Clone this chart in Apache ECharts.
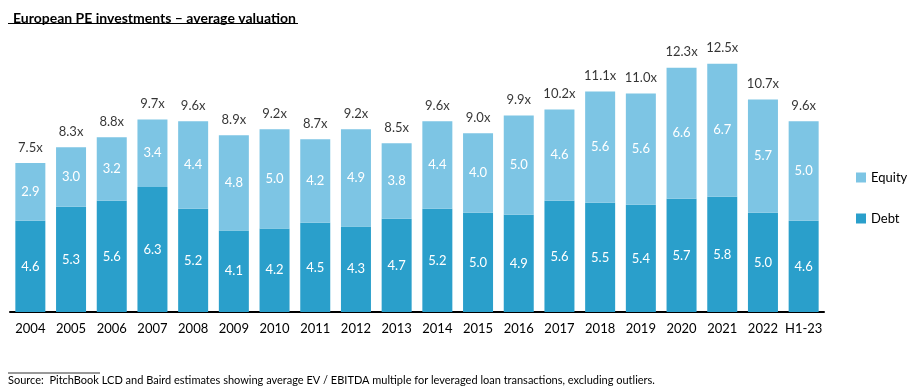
<!DOCTYPE html>
<html><head><meta charset="utf-8">
<script src="https://cdn.jsdelivr.net/npm/echarts@6/dist/echarts.min.js"></script>
<style>html,body{margin:0;padding:0;background:#fff}#c{width:912px;height:392px}</style>
</head><body><div id="c"></div>
<script>
const categories = ['2004','2005','2006','2007','2008','2009','2010','2011','2012','2013','2014','2015','2016','2017','2018','2019','2020','2021','2022','H1-23'];
const debt   = [4.6,5.3,5.6,6.3,5.2,4.1,4.2,4.5,4.3,4.7,5.2,5.0,4.9,5.6,5.5,5.4,5.7,5.8,5.0,4.6];
const equity = [2.9,3.0,3.2,3.4,4.4,4.8,5.0,4.2,4.9,3.8,4.4,4.0,5.0,4.6,5.6,5.6,6.6,6.7,5.7,5.0];
const totals = [7.5,8.3,8.8,9.7,9.6,8.9,9.2,8.7,9.2,8.5,9.6,9.0,9.9,10.2,11.1,11.0,12.3,12.5,10.7,9.6];
const titleText = 'European PE investments \u2013 average valuation';
const sourceText = 'Source:  PitchBook LCD and Baird estimates showing average EV / EBITDA multiple for leveraged loan transactions, excluding outliers.';

const FONT = 'Lato, "Noto Sans", sans-serif';
const chart = echarts.init(document.getElementById('c'), null, {renderer:'canvas'});
chart.setOption({
  animation:false,
  textStyle:{fontFamily:FONT},
  title:{text:titleText,left:8,top:6,textStyle:{fontFamily:FONT,fontSize:14,fontWeight:'bold',color:'#000'}},
  graphic:[
    {type:'line',shape:{x1:8,y1:23.5,x2:298,y2:23.5},style:{stroke:'#000',lineWidth:1}},
    {type:'line',shape:{x1:8,y1:373,x2:100,y2:373},style:{stroke:'#000',lineWidth:0.8}},
    {type:'text',left:8,top:375,style:{text:sourceText,fontFamily:FONT,fontSize:11,fill:'#000'}}
  ],
  legend:{orient:'vertical',left:851,top:166,itemWidth:10,itemHeight:10,itemGap:28,icon:'rect',
    data:['Equity','Debt'],textStyle:{fontFamily:FONT,fontSize:13,color:'#000'}},
  grid:{left:10,right:88,top:34,bottom:80,containLabel:false},
  xAxis:{type:'category',data:categories,
    axisLine:{lineStyle:{color:'#000',width:2}},axisTick:{show:false},
    axisLabel:{color:'#000',fontSize:13,margin:10,interval:0,fontFamily:FONT}},
  yAxis:{type:'value',min:0,max:14,show:false,splitLine:{show:false}},
  series:[
    {name:'Debt',type:'bar',stack:'a',data:debt,barWidth:30,
     itemStyle:{color:'#2a9fcb'},
     label:{show:true,position:'inside',color:'#fff',fontSize:13,fontFamily:FONT,formatter:p=>p.value.toFixed(1)}},
    {name:'Equity',type:'bar',stack:'a',data:equity,barWidth:30,
     itemStyle:{color:'#7dc5e4'},
     label:{show:true,position:'inside',color:'#fff',fontSize:13,fontFamily:FONT,formatter:p=>p.value.toFixed(1)}},
    {name:'Total',type:'scatter',data:totals,symbolSize:0,silent:true,
     label:{show:true,position:'top',distance:9,color:'#000',fontSize:13,fontFamily:FONT,formatter:p=>p.value.toFixed(1)+'x'}}
  ]
});
</script></body></html>
